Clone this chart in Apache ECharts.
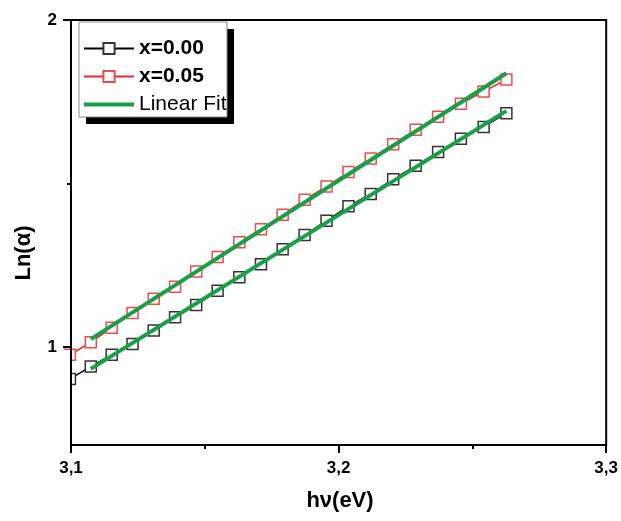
<!DOCTYPE html>
<html>
<head>
<meta charset="utf-8">
<script src="https://cdn.jsdelivr.net/npm/echarts@6/dist/echarts.min.js"></script>
<style>
html,body{margin:0;padding:0;background:#fff;}
#chart{width:621px;height:521px;}
</style>
</head>
<body>
<div id="chart"></div>
<script>
// photon energy hν (eV)
const hv = [3.0996, 3.1074, 3.1152, 3.1230, 3.1309, 3.1389, 3.1468, 3.1548, 3.1629, 3.1710,
            3.1791, 3.1873, 3.1955, 3.2037, 3.2120, 3.2204, 3.2288, 3.2372, 3.2457, 3.2542, 3.2627];
// Ln(alpha), x = 0.00
const ln00 = [0.902, 0.940, 0.976, 1.009, 1.050, 1.091, 1.128, 1.172, 1.213, 1.253,
              1.299, 1.342, 1.386, 1.430, 1.468, 1.513, 1.554, 1.596, 1.637, 1.673, 1.715];
// Ln(alpha), x = 0.05
const ln05 = [0.976, 1.014, 1.059, 1.104, 1.147, 1.184, 1.231, 1.275, 1.320, 1.360,
              1.404, 1.450, 1.491, 1.535, 1.576, 1.620, 1.664, 1.704, 1.744, 1.781, 1.818];
// linear fit end points
const fitX = [3.1074, 3.2627];
const fit00 = [0.933, 1.722];
const fit05 = [1.024, 1.837];
// ticks
const xTicks = [3.1, 3.2, 3.3];
const yTicks = [1, 2];
const yMinor = [1.5];
const legendNames = ['x=0.00', 'x=0.05', 'Linear Fit'];

const FONT = 'Liberation Sans, Arial, sans-serif';
const GREEN = '#17a046';
const chart = echarts.init(document.getElementById('chart'));

const yBase = {
  type: 'value', min: 0.7, max: 2, position: 'left',
  splitLine: {show: false}
};

chart.setOption({
  animation: false,
  backgroundColor: '#fff',
  grid: {left: 71, right: 12, top: 20, bottom: 76, show: true, borderColor: '#000', borderWidth: 2, backgroundColor: 'transparent'},
  xAxis: {
    type: 'value', min: 3.1, max: 3.3, interval: 0.1,
    axisLine: {show: true, lineStyle: {color: '#000', width: 2}},
    axisTick: {show: true, inside: false, length: 8, lineStyle: {color: '#000', width: 2}},
    minorTick: {show: true, splitNumber: 2, length: 4, lineStyle: {color: '#000', width: 2}},
    axisLabel: {
      customValues: xTicks, margin: 15, color: '#000', fontFamily: FONT, fontSize: 17, fontWeight: 'bold',
      formatter: v => v.toFixed(1).replace('.', ',')
    },
    splitLine: {show: false}, minorSplitLine: {show: false}
  },
  yAxis: [
    Object.assign({}, yBase, {
      z: 6,
      axisLine: {show: true, onZero: false, lineStyle: {color: '#000', width: 2}},
      axisTick: {show: true, customValues: yTicks, length: 8, lineStyle: {color: '#000', width: 2}},
      axisLabel: {customValues: yTicks, margin: 14, color: '#000', fontFamily: FONT, fontSize: 17, fontWeight: 'bold'}
    }),
    Object.assign({}, yBase, {
      z: 6,
      axisLine: {show: false},
      axisTick: {show: true, customValues: yMinor, length: 4, lineStyle: {color: '#000', width: 2}},
      axisLabel: {show: false}
    })
  ],
  legend: {
    orient: 'vertical', left: 79, top: 22, padding: [16, 1, 1, 4],
    itemWidth: 50, itemHeight: 14, itemGap: 7, z: 10,
    textStyle: {fontFamily: FONT, fontSize: 21, lineHeight: 21, color: '#000'},
    data: [
      {name: legendNames[0], textStyle: {fontWeight: 'bold'}},
      {name: legendNames[1], textStyle: {fontWeight: 'bold'}},
      {name: legendNames[2], icon: 'path://M0,0H50V4H0Z', itemStyle: {color: GREEN}, textStyle: {fontWeight: 'normal'}}
    ],
    selectedMode: false
  },
  graphic: [
    {type: 'rect', z: 1, shape: {x: 86, y: 29, width: 148, height: 95}, style: {fill: '#000'}},
    {type: 'rect', z: 2, shape: {x: 79, y: 22, width: 148, height: 95}, style: {fill: '#fff', stroke: '#888', lineWidth: 1}},
    {type: 'rect', z: 3, shape: {x: 56, y: 350, width: 14, height: 40}, style: {fill: '#fff'}},
    {type: 'text', z: 5, x: 24, y: 253, rotation: Math.PI / 2,
     style: {text: 'Ln(α)', fill: '#000', font: 'bold 22px ' + FONT, textAlign: 'center', textVerticalAlign: 'middle'}},
    {type: 'text', z: 5, x: 340, y: 501,
     style: {text: 'hν(eV)', fill: '#000', font: 'bold 22px ' + FONT, textAlign: 'center', textVerticalAlign: 'middle'}}
  ],
  series: [
    {
      name: legendNames[0], type: 'line', clip: false, z: 2,
      data: hv.map((x, i) => [x, ln00[i]]),
      symbol: 'rect', symbolSize: 11, showSymbol: true,
      lineStyle: {color: '#000', width: 1.5},
      itemStyle: {color: '#fff', borderColor: '#333', borderWidth: 1.5}
    },
    {
      name: legendNames[1], type: 'line', clip: false, z: 2,
      data: hv.map((x, i) => [x, ln05[i]]),
      symbol: 'rect', symbolSize: 11, showSymbol: true,
      lineStyle: {color: '#e8282c', width: 1.5},
      itemStyle: {color: '#fff', borderColor: '#f04a4a', borderWidth: 1.5}
    },
    {
      name: legendNames[2], type: 'line', z: 4, symbol: 'none',
      data: fitX.map((x, i) => [x, fit00[i]]),
      lineStyle: {color: GREEN, width: 4}, itemStyle: {color: GREEN}
    },
    {
      name: legendNames[2], type: 'line', z: 4, symbol: 'none',
      data: fitX.map((x, i) => [x, fit05[i]]),
      lineStyle: {color: GREEN, width: 4}, itemStyle: {color: GREEN}
    }
  ]
});
</script>
</body>
</html>
